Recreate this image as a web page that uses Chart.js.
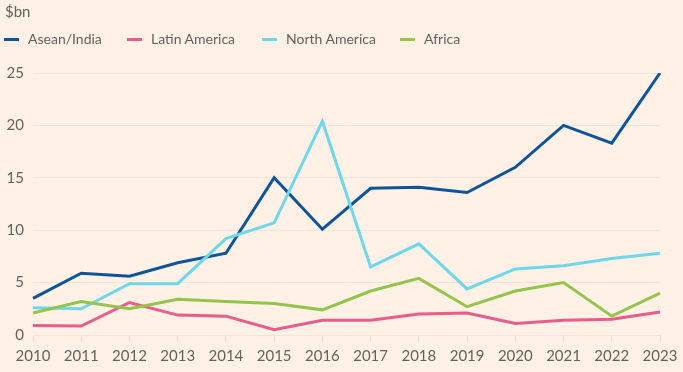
<!DOCTYPE html>
<html>
<head>
<meta charset="utf-8">
<script src="https://cdn.jsdelivr.net/npm/chart.js@4"></script>
<style>
  html, body { margin: 0; padding: 0; background: #FFF1E5; }
  #wrap { position: relative; width: 683px; height: 372px; overflow: hidden; background: #FFF1E5; font-family: Lato, "Open Sans", sans-serif; color: #66605C; }
  #unit { position: absolute; left: 5px; top: 2px; font-size: 15px; }
  #legend { position: absolute; left: 0; top: 30px; font-size: 14px; }
  .item { position: absolute; white-space: nowrap; top: 0; }
  .sw { position: absolute; top: 8px; width: 15px; height: 3px; }
  .lab { position: absolute; top: 0; }
  canvas { position: absolute; left: 0; top: 0; }
</style>
</head>
<body>
<div id="wrap">
  <canvas id="c" width="683" height="372"></canvas>
  <div id="unit">$bn</div>
  <div id="legend"></div>
</div>
<script>
const years = ["2010","2011","2012","2013","2014","2015","2016","2017","2018","2019","2020","2021","2022","2023"];
const aseanIndia    = [3.5, 5.9, 5.6, 6.9, 7.8, 15.0, 10.1, 14.0, 14.1, 13.6, 16.0, 20.0, 18.3, 25.0];
const latinAmerica  = [0.9, 0.85, 3.1, 1.9, 1.8, 0.5, 1.4, 1.4, 2.0, 2.1, 1.1, 1.4, 1.5, 2.2];
const northAmerica  = [2.6, 2.5, 4.9, 4.9, 9.2, 10.7, 20.4, 6.5, 8.7, 4.4, 6.3, 6.6, 7.3, 7.8];
const africa        = [2.1, 3.2, 2.5, 3.4, 3.2, 3.0, 2.4, 4.2, 5.4, 2.7, 4.2, 5.0, 1.8, 4.0];
const seriesNames   = ["Asean/India", "Latin America", "North America", "Africa"];
const yTicks        = [0, 5, 10, 15, 20, 25];

const colors = ["#0F5499", "#EB5C8B", "#6FD6EC", "#93C54B"];
const legendX = [4, 127, 262, 400];

const legend = document.getElementById('legend');
seriesNames.forEach((n, i) => {
  const it = document.createElement('div');
  it.className = 'item';
  it.style.left = legendX[i] + 'px';
  it.innerHTML = '<span class="sw" style="left:0;background:' + colors[i] + '"></span><span class="lab" style="left:24px">' + n + '</span>';
  legend.appendChild(it);
});

const datasets = [aseanIndia, latinAmerica, northAmerica, africa].map((d, i) => ({
  label: seriesNames[i],
  data: d,
  borderColor: colors[i],
  backgroundColor: colors[i],
  borderWidth: 3,
  pointRadius: 0,
  tension: 0,
  fill: false
}));

new Chart(document.getElementById('c'), {
  type: 'line',
  data: { labels: years, datasets: datasets.slice().reverse() },
  options: {
    responsive: false,
    animation: false,
    layout: { padding: { top: 73, right: 23, left: 0, bottom: 0 } },
    plugins: { legend: { display: false }, tooltip: { enabled: false } },
    scales: {
      x: {
        offset: false,
        grid: { drawOnChartArea: false, drawTicks: true, tickLength: 7, color: '#E9DCD0', lineWidth: 1 },
        border: { display: false },
        ticks: { color: '#66605C', font: { family: 'Lato', size: 15 }, padding: 5, maxRotation: 0, autoSkip: false },
        afterFit: s => { s.height = 37; }
      },
      y: {
        min: 0, max: 25,
        afterBuildTicks: s => { s.ticks = yTicks.map(v => ({ value: v })); },
        grid: { drawTicks: false, color: '#F3E4D8', lineWidth: 1 },
        border: { display: false },
        ticks: { color: '#66605C', font: { family: 'Lato', size: 15 }, padding: 9 },
        afterFit: s => { s.width = 33; }
      }
    }
  }
});
</script>
</body>
</html>
